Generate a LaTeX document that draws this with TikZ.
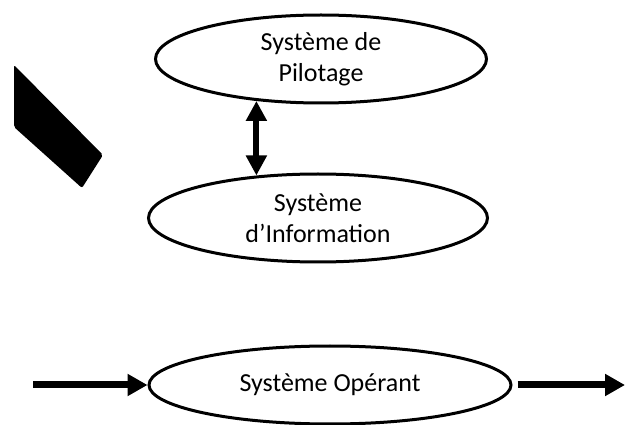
\documentclass[tikz,border=0pt]{standalone}
\usepackage{fontspec}
\setmainfont{Carlito}
\usetikzlibrary{shapes.geometric,arrows.meta}
\begin{document}
\begin{tikzpicture}[x=1pt,y=-1pt,
  sys/.style={ellipse,draw=black,line width=3pt,fill=white,inner sep=0pt,align=center,
    font=\fontsize{26}{31}\selectfont},
  bigarrow/.style={line width=7pt,-{Triangle[length=20pt,width=21pt]}},
  dblarrow/.style={line width=6pt,{Triangle[length=20pt,width=20pt]}-{Triangle[length=20pt,width=20pt]}}]
\useasboundingbox (0,0) rectangle (625,425);
\node[sys,minimum width=331pt,minimum height=88pt] (pil) at (321,59) {Système de\\Pilotage};
\node[sys,minimum width=339pt,minimum height=88pt] (info) at (318,218) {Système\\d’Information};
\node[sys,minimum width=362pt,minimum height=78pt] (op) at (330,385) {Système Opérant};
\coordinate (in) at (33,385);
\coordinate (out) at (625,385);
\draw[dblarrow] (pil.213) -- (pil.213 |- info.145);
\draw[bigarrow] (in) -- (op.west);
\draw[bigarrow] ([xshift=5pt]op.east) -- (out);
\fill[black,rounded corners=2pt] (14,65) -- (103,155) -- (82,188) -- (14,127) -- cycle;
\end{tikzpicture}
\end{document}
